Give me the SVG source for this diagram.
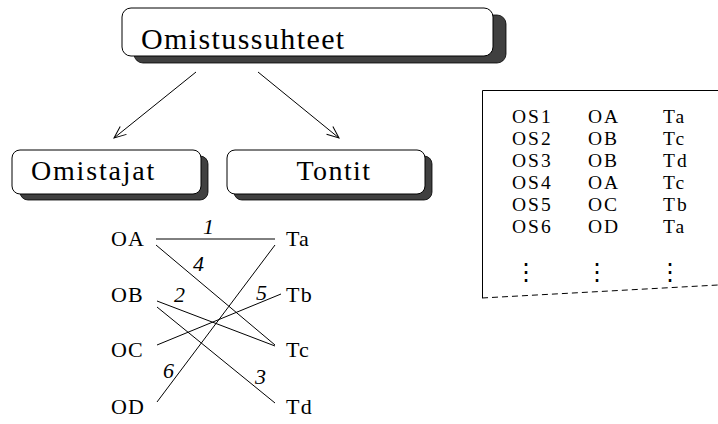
<svg xmlns="http://www.w3.org/2000/svg" width="718" height="424" viewBox="0 0 718 424">
<defs>
<style>
.t{font-family:"Liberation Serif","DejaVu Serif",serif;fill:#000}
.box{fill:#fff;stroke:#000;stroke-width:1}
.sh{fill:#404040;stroke:#000;stroke-width:0.8}
.ln{stroke:#000;stroke-width:1;fill:none}
.n{font-family:"Liberation Serif","DejaVu Serif",serif;font-style:italic;font-size:22px}
.lab{font-size:22px;letter-spacing:1.2px}
.tab{font-size:19.5px;letter-spacing:2px}
.dots{font-family:"DejaVu Sans",sans-serif;font-size:24px}
</style>
<marker id="arr" markerWidth="14" markerHeight="12" refX="13" refY="6" orient="auto" markerUnits="userSpaceOnUse">
<path d="M1,1 L13,6 L1,11" fill="none" stroke="#000" stroke-width="1"/>
</marker>
</defs>
<rect width="718" height="424" fill="#fff"/>
<g id="omistussuhteet">
<rect class="sh" x="134" y="15" width="372" height="48" rx="9"/>
<rect class="box" x="122" y="8" width="371" height="48" rx="9"/>
<text class="t" x="141" y="49" font-size="30" letter-spacing="1.4">Omistussuhteet</text>
</g>
<g id="omistajat">
<rect class="sh" x="20" y="156" width="188" height="44" rx="8"/>
<rect class="box" x="12" y="150" width="189" height="44" rx="8"/>
<text class="t" x="31" y="180" font-size="28" letter-spacing="1.8">Omistajat</text>
</g>
<g id="tontit">
<rect class="sh" x="234" y="156" width="198" height="44" rx="8"/>
<rect class="box" x="227" y="150" width="198" height="44" rx="8"/>
<text class="t" x="334" y="180" font-size="28" letter-spacing="1.4" text-anchor="middle">Tontit</text>
</g>
<g id="connectors">
<line class="ln" x1="196" y1="72" x2="114" y2="138" marker-end="url(#arr)"/>
<line class="ln" x1="258" y1="72" x2="339" y2="138" marker-end="url(#arr)"/>
</g>
<g id="graph">
<g class="t lab">
<text x="111" y="246">OA</text>
<text x="111" y="302">OB</text>
<text x="111" y="357">OC</text>
<text x="111" y="414">OD</text>
<text x="286" y="246">Ta</text>
<text x="286" y="302">Tb</text>
<text x="286" y="357">Tc</text>
<text x="286" y="414">Td</text>
</g>
<g class="ln">
<line x1="156" y1="239" x2="275" y2="239"/>
<line x1="156" y1="245" x2="275" y2="345"/>
<line x1="157" y1="301" x2="275" y2="346"/>
<line x1="157" y1="307" x2="275" y2="403"/>
<line x1="157" y1="345" x2="281" y2="294"/>
<line x1="157" y1="402" x2="275" y2="245"/>
</g>
<g class="n">
<text x="203" y="234">1</text>
<text x="193" y="271">4</text>
<text x="174" y="302">2</text>
<text x="256" y="300">5</text>
<text x="163" y="378">6</text>
<text x="255" y="384">3</text>
</g>
</g>
<g id="table">
<path class="ln" d="M718,90.5 L482.5,90.5 L482.5,298"/>
<line class="ln" x1="482" y1="298" x2="718" y2="285" stroke-dasharray="6,4"/>
<g class="t tab">
<text x="512" y="123">OS1</text><text x="588" y="123">OA</text><text x="663" y="123">Ta</text>
<text x="512" y="145">OS2</text><text x="588" y="145">OB</text><text x="663" y="145">Tc</text>
<text x="512" y="167">OS3</text><text x="588" y="167">OB</text><text x="663" y="167">Td</text>
<text x="512" y="189">OS4</text><text x="588" y="189">OA</text><text x="663" y="189">Tc</text>
<text x="512" y="211">OS5</text><text x="588" y="211">OC</text><text x="663" y="211">Tb</text>
<text x="512" y="233">OS6</text><text x="588" y="233">OD</text><text x="663" y="233">Ta</text>
</g>
<g class="dots" text-anchor="middle">
<text x="526" y="280">⋮</text><text x="597" y="280">⋮</text><text x="670" y="280">⋮</text>
</g>
</g>
</svg>
